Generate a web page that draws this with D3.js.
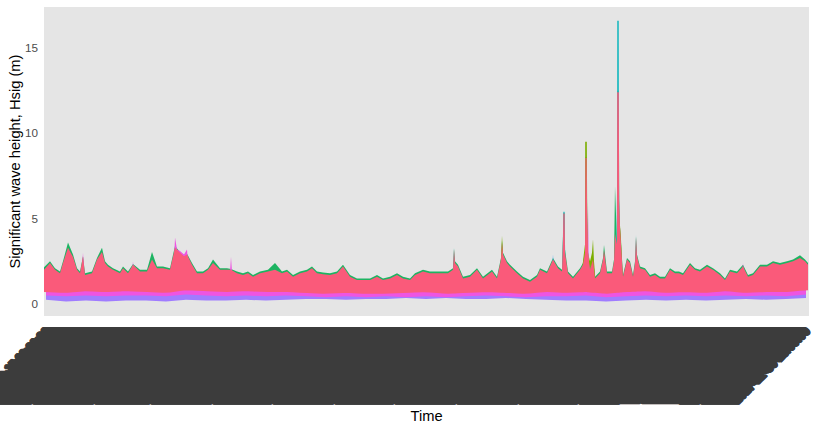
<!DOCTYPE html>
<html><head><meta charset="utf-8">
<script src="https://cdn.jsdelivr.net/npm/d3@7"></script>
<style>body{margin:0;background:#fff}svg{display:block}</style>
</head><body><svg id="c" width="816" height="432"></svg>
<script>
// ---------- data (x in days from start) ----------
const yTicks = [0, 5, 10, 15];
const yTickLabels = ["0", "5", "10", "15"];

// [day, main (pink) series upper envelope, green series upper envelope]
const mainEnvelope = [
 [-1,2.0,2.15],[2,2.4,2.5],[4.5,2.0,2.1],[7,1.8,1.9],[8.5,2.4,2.5],[11,3.3,3.6],[13.5,2.75,2.9],[15.5,2.0,2.1],
 [17,1.8,1.9],[18.5,2.8,2.8],[19.5,1.7,1.8],[23,1.8,1.9],[25.5,2.6,2.7],[28,3.05,3.3],[29.5,2.4,2.5],[31,2.2,2.3],
 [33.5,2.0,2.1],[37,1.8,1.9],[38.5,2.1,2.2],[41,1.8,1.9],[43.5,2.3,2.35],[47,1.9,2.0],[50.5,1.9,2.0],[53,2.6,3.05],
 [55.5,2.1,2.2],[58.5,2.1,2.2],[62,2.0,2.1],[64.5,3.3,3.4],[67,3.0,3.05],[69,2.8,2.85],[70.5,2.9,2.95],[73,2.3,2.4],
 [75.5,1.8,1.9],[78.5,1.8,1.9],[81,2.0,2.1],[83.5,2.4,2.6],[87,2.0,2.1],[90.5,2.0,2.1],[92.5,2.0,2.05],[95.5,1.8,1.9],
 [98.5,1.7,1.8],[101,1.8,1.9],[103.5,1.6,1.7],[107,1.8,1.9],[111,1.9,2.0],[114.5,2.0,2.4],[118,1.8,1.9],[120.5,1.9,2.0],
 [123.5,1.6,1.7],[127,1.8,1.9],[130.5,1.9,2.0],[133,2.1,2.2],[135.5,1.8,1.9],[138.5,1.75,1.85],[142,1.7,1.8],[145.5,1.8,1.9],
 [148.5,2.2,2.3],[152,1.6,1.7],[155.5,1.4,1.5],[158.5,1.4,1.5],[162,1.4,1.5],[165.5,1.6,1.7],[168.5,1.4,1.5],[172,1.5,1.6],
 [175.5,1.7,1.8],[178.5,1.5,1.6],[182,1.4,1.5],[184.5,1.7,1.8],[188.5,1.9,2.0],[192,1.8,1.9],[195.5,1.8,1.9],[198.5,1.8,1.9],
 [201,1.8,1.9],[203.5,2.0,2.1],[204,3.2,3.25],[204.5,2.4,2.5],[206,2.2,2.3],[208.5,1.5,1.6],[212,1.6,1.7],[215.5,2.0,2.1],
 [218.5,1.5,1.6],[223,1.9,2.0],[225.5,1.5,1.6],[227.5,2.6,2.7],[228,3.6,3.7],[228.5,2.9,3.0],[230.5,2.4,2.5],[232,2.2,2.3],
 [235.5,1.8,1.9],[238.5,1.5,1.6],[242,1.3,1.4],[245.5,1.6,1.7],[247,2.0,2.1],[250.5,1.8,1.9],[253.5,2.6,2.7],[256,2.1,2.2],
 [258,1.9,2.0],[258.5,3.8,4.0],[258.7,5.3,5.35],[259.3,5.3,5.35],[259.5,3.0,3.2],[261,1.8,1.9],[263.5,1.5,1.6],[267,2.0,2.1],[268.5,2.3,2.4],
 [269.5,3.0,3.1],[269.7,8.55,8.6],[270.3,8.55,8.6],[270.6,5.0,5.1],[271,3.0,3.1],[272,2.0,2.1],[273.5,2.6,2.7],[274.5,1.5,1.6],[277,1.8,1.9],
 [278.5,2.6,2.7],[279,3.15,3.45],[280.5,1.8,1.9],[283,1.8,1.9],[284,2.5,2.6],[284.5,4.1,6.9],[285.5,3.5,3.6],[285.6,12.4,12.5],[286.4,12.4,12.5],
 [286.6,6.0,6.1],[287,4.5,4.5],[287.5,3.5,3.6],[288.5,1.6,1.7],[290.5,2.6,2.7],[292,2.4,2.5],[293.5,1.6,1.7],[294.5,2.4,2.5],
 [295,3.9,3.95],[295.5,2.8,2.9],[297,2.1,2.2],[299.5,2.0,2.1],[302,1.6,1.7],[304.5,1.7,1.8],[307,1.5,1.6],[309.5,1.5,1.6],
 [312,2.0,2.1],[314.5,1.8,1.9],[316.5,1.8,1.9],[318.5,1.7,1.8],[322,2.3,2.4],[324.5,2.0,2.1],[327,1.9,2.0],[330.5,2.2,2.3],
 [333.5,2.0,2.1],[337,1.7,1.8],[339.5,1.4,1.5],[342,1.9,2.0],[345.5,1.8,1.9],[348.5,2.2,2.3],[351,1.6,1.7],[353.5,1.7,1.8],
 [357,2.2,2.3],[360.5,2.2,2.3],[363.5,2.4,2.5],[367,2.3,2.4],[370.5,2.4,2.5],[373.5,2.5,2.6],[377,2.7,2.85],[379.5,2.5,2.6],
 [381,2.3,2.4]
];

// accent series peaks: [day, value]
const limeSeries = [
 [226.5,1.0],[227.5,2.7],[228,4.0],[228.5,3.0],[229.5,1.0],
 [267,1.0],[268.5,2.5],[269.5,3.5],[269.6,9.5],[270.4,9.5],[270.6,5.5],[271,3.0],[272,2.5],[273,3.0],[273.5,3.8],[274,2.5],[275,1.0],
 [285.5,1.0],[286.5,4.0],[287,4.6],[287.5,3.8],[288.5,1.0]
];
const tealSeries = [
 [203.5,1.0],[204,3.3],[204.5,1.0],
 [258,1.0],[258.5,4.2],[258.7,5.4],[259.3,5.4],[259.5,3.5],[260,1.0],
 [285,1.0],[285.5,6.5],[285.6,16.6],[286.4,16.6],[286.5,7.0],[287,1.0],
 [294.5,1.0],[295,4.05],[295.5,1.0]
];
const blueSeries = [
 [252.5,1.0],[253.5,2.9],[254.5,1.0],
 [270.5,1.0],[272,2.35],[273,1.0]
];
const magentaSeries = [
 [17.5,1.0],[18.5,3.0],[19.5,1.0],
 [42.5,1.0],[43.5,2.5],[44.5,1.0],
 [63.5,1.0],[64.5,3.9],[65.5,3.2],[67,3.1],[69,2.9],[70.5,3.2],[72,1.0],
 [91.5,1.0],[92.5,2.75],[93.5,1.0],
 [270.5,1.0],[271,5.8],[271.5,1.0],
 [347.5,1.0],[348.5,2.4],[349.5,1.0]
];

// lower part of the band, every 10 days
const lowDays = d3.range(0, 381, 10);
const purpleLow  = [0.25,0.15,0.2,0.15,0.2,0.2,0.15,0.25,0.2,0.2,0.25,0.2,0.25,0.3,0.3,0.25,0.3,0.3,0.35,0.3,0.35,0.3,0.3,0.35,0.3,0.25,0.2,0.2,0.15,0.2,0.25,0.2,0.25,0.2,0.25,0.3,0.25,0.3,0.35];
const magentaLow = [0.5,0.45,0.5,0.45,0.5,0.5,0.45,0.55,0.5,0.45,0.5,0.45,0.5, 0.45,0.4,0.45,0.4,0.45,0.4,0.45,0.4,0.45,0.5,0.45,0.4,0.45, 0.45,0.5,0.4,0.45,0.5,0.45,0.5,0.45,0.5,0.45,0.5,0.45,0.55];
const pinkLow    = [0.7,0.65,0.75,0.7,0.75,0.7,0.65,0.8,0.75,0.7,0.75,0.7,0.7, 0.65,0.6,0.65,0.6,0.6,0.65,0.7,0.6,0.65,0.7,0.65,0.6,0.7, 0.65,0.7,0.6,0.7,0.75,0.65,0.7,0.65,0.75,0.65,0.7,0.7,0.8];

// x-axis tick labels: one per 6-hour time step
const startTime = new Date(2016, 11, 15, 0, 0, 0);
const timeSteps = d3.timeHour.every(6).range(startTime, d3.timeDay.offset(startTime, 381));
const timeLabels = timeSteps.map(d3.timeFormat("%Y-%m-%d %H:%M:%S"));

// ---------- drawing ----------
const panel = {left: 44, right: 809, top: 7, bottom: 316};
const svg = d3.select("#c");
const font = "'Liberation Sans', Arial, Helvetica, sans-serif";

const x = d3.scaleLinear().domain([-1, 381]).range([panel.left, panel.right - 1]);
const y = d3.scaleLinear().domain([-0.703, 17.40]).range([panel.bottom, panel.top]);

svg.append("rect").attr("x", panel.left).attr("y", panel.top)
  .attr("width", panel.right - panel.left).attr("height", panel.bottom - panel.top)
  .attr("fill", "#E5E5E5");

svg.append("clipPath").attr("id", "clip").append("rect")
  .attr("x", panel.left).attr("y", panel.top)
  .attr("width", panel.right - panel.left).attr("height", panel.bottom - panel.top);

const g = svg.append("g").attr("clip-path", "url(#clip)");

const areaTop = (idx, base) => d3.area().x(d => x(d[0])).y0(y(base)).y1(d => y(d[idx]));

g.append("path").datum(mainEnvelope).attr("d", areaTop(2, 1.0)).attr("fill", "#1DB462");
g.append("path").datum(limeSeries).attr("d", areaTop(1, 1.0)).attr("fill", "#7CAE00");
g.append("path").datum(tealSeries).attr("d", areaTop(1, 1.0)).attr("fill", "#1FBAC0");
g.append("path").datum(blueSeries).attr("d", areaTop(1, 1.0)).attr("fill", "#3FA2F2");
g.append("path").datum(magentaSeries).attr("d", areaTop(1, 1.0)).attr("fill", "#EE55E2");

const lowRows = lowDays.map((d, i) => ({d, p: purpleLow[i], m: magentaLow[i], k: pinkLow[i]}));
g.append("path").datum(lowRows)
  .attr("d", d3.area().x(r => x(r.d)).y0(r => y(r.p)).y1(y(0.95)))
  .attr("fill", "#A07CFF");
g.append("path").datum(lowRows)
  .attr("d", d3.area().x(r => x(r.d)).y0(r => y(r.m)).y1(y(1.0)))
  .attr("fill", "#EE55E2");

const pinkLowAt = d3.scaleLinear().domain(lowDays).range(pinkLow).clamp(true);
g.append("path").datum(mainEnvelope)
  .attr("d", d3.area().x(d => x(d[0])).y0(d => y(pinkLowAt(d[0]))).y1(d => y(d[1])))
  .attr("fill", "#FA5A7A");

// y axis labels
svg.append("g").selectAll("text").data(yTicks).join("text")
  .attr("x", panel.left - 6).attr("y", d => y(d))
  .attr("dy", "0.35em").attr("text-anchor", "end")
  .attr("font-family", font).attr("font-size", 11.7).attr("fill", "#4D4D4D")
  .text((d, i) => yTickLabels[i]);

// x axis labels (dense, rotated 45°)
const lab = svg.append("g").attr("font-family", font).attr("font-size", 11)
  .attr("fill", "#3C3C3C").attr("stroke", "#3C3C3C").attr("stroke-width", 1.6)
  .attr("stroke-linejoin", "round").attr("text-anchor", "end");
timeLabels.forEach((t, i) => {
  const ax = x(i / 4) + 3.5, ay = 332;
  lab.append("text").attr("transform", `translate(${ax},${ay}) rotate(-45)`).text(t);
});

// axis titles
svg.append("text").attr("x", (panel.left + panel.right) / 2).attr("y", 421)
  .attr("text-anchor", "middle").attr("font-family", font).attr("font-size", 14.7)
  .attr("fill", "#000").text("Time");
svg.append("text").attr("transform", `translate(20,${(panel.top + panel.bottom) / 2}) rotate(-90)`)
  .attr("text-anchor", "middle").attr("font-family", font).attr("font-size", 14.7)
  .attr("fill", "#000").text("Significant wave height, Hsig (m)");
</script></body></html>
